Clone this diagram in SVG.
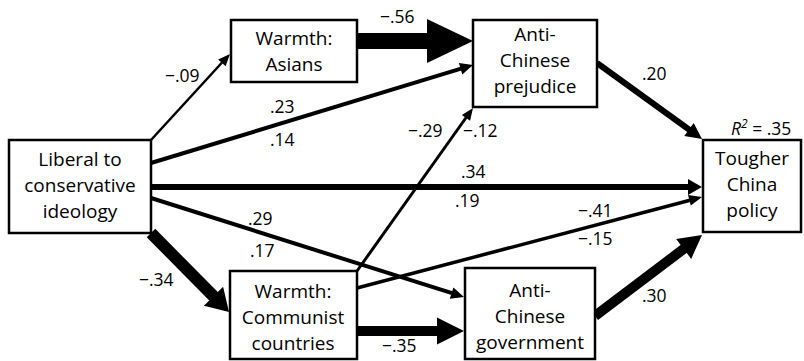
<svg xmlns="http://www.w3.org/2000/svg" width="804" height="361" viewBox="0 0 804 361">
<style>
.box{fill:#fff;stroke:#000;stroke-width:2.5}
.t{font-family:"Open Sans","DejaVu Sans",sans-serif;font-size:19px;text-anchor:middle;fill:#000}
.l{font-family:"Open Sans","DejaVu Sans",sans-serif;font-size:17.5px;fill:#000}
.c line{stroke:#000;stroke-linecap:butt}
.c polygon,.c rect{fill:#000}
</style>
<rect width="804" height="361" fill="#fff"/>
<g id="connectors" class="c">
<line x1="151" y1="140" x2="222.5" y2="62" stroke-width="2.5"/>
<polygon points="230,54 225.6,66.2 218.2,59.4"/>
<line x1="151" y1="163" x2="461" y2="68.7" stroke-width="4"/>
<polygon points="473,65 462.3,74.5 458.9,63.1"/>
<rect x="357" y="33" width="71" height="16"/>
<polygon points="427,19 473,41 427,63"/>
<line x1="597" y1="63" x2="690" y2="130.3" stroke-width="6"/>
<polygon points="702,139 684.3,136.1 693.7,123.1"/>
<line x1="151" y1="187" x2="689" y2="187" stroke-width="6"/>
<polygon points="702,187 688,179 688,195"/>
<line x1="151" y1="198" x2="452" y2="293.2" stroke-width="4"/>
<polygon points="464,297 449.8,298.8 453.4,287.4"/>
<line x1="151" y1="233" x2="214.5" y2="297.3" stroke-width="12"/>
<polygon points="229,312 203.9,305.8 223.1,286.8"/>
<line x1="357" y1="271" x2="466.5" y2="117" stroke-width="3"/>
<polygon points="473,108 470.1,120.7 461.9,114.9"/>
<line x1="357" y1="288" x2="690" y2="200.2" stroke-width="3.5"/>
<polygon points="702,197 690.8,205.6 688,195"/>
<rect x="357" y="326" width="81" height="10"/>
<polygon points="437,317.5 464,331 437,344.5"/>
<line x1="595" y1="316" x2="684.5" y2="248.3" stroke-width="10"/>
<polygon points="702,235 691.2,258.9 676.2,238.9"/>
</g>
<g id="ideology">
<rect class="box" x="9" y="140" width="142" height="93"/>
<text class="t" x="80" y="166">Liberal to</text>
<text class="t" x="80" y="192">conservative</text>
<text class="t" x="80" y="218">ideology</text>
</g>
<g id="warmth-asians">
<rect class="box" x="231" y="20" width="126" height="62"/>
<text class="t" x="294" y="45">Warmth:</text>
<text class="t" x="294" y="71">Asians</text>
</g>
<g id="prejudice">
<rect class="box" x="473" y="20" width="124" height="87"/>
<text class="t" x="535" y="41">Anti-</text>
<text class="t" x="535" y="67">Chinese</text>
<text class="t" x="535" y="93">prejudice</text>
</g>
<g id="warmth-communist">
<rect class="box" x="230" y="271" width="127" height="88"/>
<text class="t" x="293" y="298">Warmth:</text>
<text class="t" x="293" y="324">Communist</text>
<text class="t" x="293" y="350">countries</text>
</g>
<g id="anti-government">
<rect class="box" x="465" y="268" width="130" height="91"/>
<text class="t" x="530" y="297">Anti-</text>
<text class="t" x="530" y="323">Chinese</text>
<text class="t" x="530" y="349">government</text>
</g>
<g id="policy">
<rect class="box" x="703" y="140" width="98" height="92"/>
<text class="t" x="752" y="165">Tougher</text>
<text class="t" x="752" y="191">China</text>
<text class="t" x="752" y="217">policy</text>
</g>
<g id="labels">
<text class="l" x="165" y="82">−.09</text>
<text class="l" x="380" y="23">−.56</text>
<text class="l" x="270" y="113">.23</text>
<text class="l" x="270" y="146">.14</text>
<text class="l" x="642" y="80">.20</text>
<text class="l" x="408" y="137">−.29</text>
<text class="l" x="463" y="137">−.12</text>
<text class="l" x="461" y="178">.34</text>
<text class="l" x="455" y="207">.19</text>
<text class="l" x="248" y="225">.29</text>
<text class="l" x="250" y="257">.17</text>
<text class="l" x="578" y="217">−.41</text>
<text class="l" x="578" y="245">−.15</text>
<text class="l" x="139" y="286">−.34</text>
<text class="l" x="382" y="352">−.35</text>
<text class="l" x="642" y="302">.30</text>
<text class="l" x="731" y="135"><tspan font-style="italic">R</tspan><tspan font-style="italic" font-size="12px" dy="-7">2</tspan><tspan dy="7"> = .35</tspan></text>
</g>
</svg>
